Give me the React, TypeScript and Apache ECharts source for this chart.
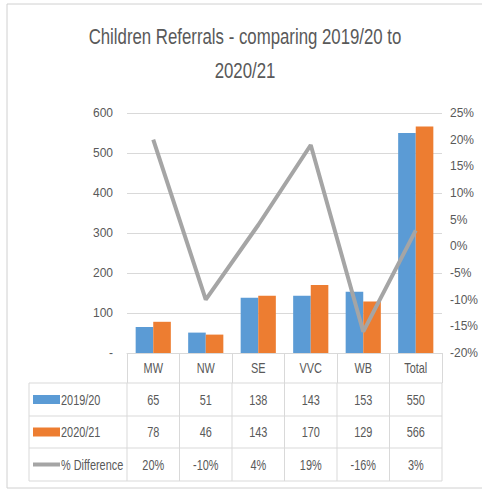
import React, { useEffect, useRef } from "react";
import * as echarts from "echarts";

const categories = ["MW", "NW", "SE", "VVC", "WB", "Total"];
const seriesNames = ["2019/20", "2020/21", "% Difference"];
const referrals2019 = [65, 51, 138, 143, 153, 550];
const referrals2020 = [78, 46, 143, 170, 129, 566];
const pctDifference = [0.2, -0.1, 0.04, 0.19, -0.16, 0.03];
const pctLabels = ["20%", "-10%", "4%", "19%", "-16%", "3%"];
const titleLines = ["Children Referrals - comparing 2019/20 to", "2020/21"];

const BLUE = "#5B9BD5";
const ORANGE = "#ED7D31";
const GRAY = "#A5A5A5";
const TEXT = "#595959";
const LINE = "#D9D9D9";
const FONT = "'Liberation Sans', Arial, sans-serif";

export default function App() {
  const ref = useRef<HTMLDivElement>(null);
  useEffect(() => {
    if (!ref.current) return;
    const chart = echarts.init(ref.current, null, { renderer: "svg" });
    const L = 127, R = 442, T = 353;
    const cw = (R - L) / categories.length;
    const rowTops = [353, 383, 416, 448, 481];
    const tableLeft = 29;
    const SX = 0.78;
    const graphics: any[] = [];
    const narrowText = (text: string, x: number, y: number, size: number, align: string) => ({
      type: "text",
      x,
      y,
      scaleX: SX,
      scaleY: 1.1,
      style: { text, fill: TEXT, font: `${size}px ${FONT}`, align, verticalAlign: "middle" },
    });
    graphics.push({
      type: "rect",
      shape: { x: 7, y: 4, width: 490, height: 484 },
      style: { fill: "none", stroke: "#D0D0D0", lineWidth: 1 },
      silent: true,
    });
    titleLines.forEach((t, i) => {
      graphics.push({
        type: "text",
        x: 245,
        y: 36 + i * 34,
        scaleX: 0.8,
        scaleY: 1.05,
        style: { text: t, fill: TEXT, font: `21px ${FONT}`, align: "center", verticalAlign: "middle" },
      });
    });
    categories.forEach((c, i) => {
      graphics.push(narrowText(c, L + (i + 0.5) * cw, (rowTops[0] + rowTops[1]) / 2, 14, "center"));
    });
    for (let r = 1; r < rowTops.length; r++) {
      graphics.push({
        type: "line",
        shape: { x1: tableLeft, y1: rowTops[r], x2: R, y2: rowTops[r] },
        style: { stroke: LINE, lineWidth: 1 },
      });
    }
    graphics.push({
      type: "line",
      shape: { x1: tableLeft, y1: rowTops[1], x2: tableLeft, y2: rowTops[4] },
      style: { stroke: LINE, lineWidth: 1 },
    });
    for (let i = 0; i <= categories.length; i++) {
      graphics.push({
        type: "line",
        shape: { x1: L + i * cw, y1: rowTops[1], x2: L + i * cw, y2: rowTops[4] },
        style: { stroke: LINE, lineWidth: 1 },
      });
    }
    const rowsText = [referrals2019.map(String), referrals2020.map(String), pctLabels];
    rowsText.forEach((row, r) => {
      const cy = (rowTops[r + 1] + rowTops[r + 2]) / 2;
      row.forEach((t, i) => {
        graphics.push(narrowText(t, L + (i + 0.5) * cw, cy, 14, "center"));
      });
      if (r < 2) {
        graphics.push({
          type: "rect",
          shape: { x: 33, y: cy - 4.5, width: 27, height: 9 },
          style: { fill: r === 0 ? BLUE : ORANGE },
        });
      } else {
        graphics.push({
          type: "line",
          shape: { x1: 33, y1: cy, x2: 60, y2: cy },
          style: { stroke: GRAY, lineWidth: 4 },
        });
      }
      graphics.push(narrowText(seriesNames[r], 61, cy, 14, "left"));
    });

    chart.setOption({
      animation: false,
      backgroundColor: "#fff",
      grid: { left: L, right: 482 - R, top: 113, bottom: 491 - T, containLabel: false },
      xAxis: {
        type: "category",
        data: categories,
        axisLine: { lineStyle: { color: LINE } },
        axisTick: { show: true, length: 30, alignWithLabel: false, interval: 0, lineStyle: { color: LINE } },
        axisLabel: { show: false },
      },
      yAxis: [
        {
          type: "value",
          min: 0,
          max: 600,
          interval: 100,
          axisLine: { show: false },
          axisTick: { show: false },
          splitLine: { lineStyle: { color: LINE } },
          axisLabel: {
            color: TEXT,
            fontFamily: FONT,
            fontSize: 12,
            margin: 14,
            formatter: (v: number) => (v === 0 ? "-" : String(v)),
          },
        },
        {
          type: "value",
          min: -0.2,
          max: 0.25,
          interval: 0.05,
          axisLine: { show: false },
          axisTick: { show: false },
          splitLine: { show: false },
          axisLabel: {
            color: TEXT,
            fontFamily: FONT,
            fontSize: 12,
            margin: 8,
            formatter: (v: number) => `${Math.round(v * 100)}%`,
          },
        },
      ],
      series: [
        {
          name: seriesNames[0],
          type: "bar",
          data: referrals2019,
          itemStyle: { color: BLUE },
          barGap: "0%",
          barCategoryGap: "33%",
        },
        {
          name: seriesNames[1],
          type: "bar",
          data: referrals2020,
          itemStyle: { color: ORANGE },
          barGap: "0%",
          barCategoryGap: "33%",
        },
        {
          name: seriesNames[2],
          type: "line",
          yAxisIndex: 1,
          data: pctDifference,
          showSymbol: false,
          symbol: "none",
          lineStyle: { color: GRAY, width: 4 },
          itemStyle: { color: GRAY },
          z: 5,
        },
      ],
      graphic: graphics,
    });
    return () => chart.dispose();
  }, []);
  return <div ref={ref} style={{ position: "fixed", left: 0, top: 0, width: 482, height: 491 }} />;
}
